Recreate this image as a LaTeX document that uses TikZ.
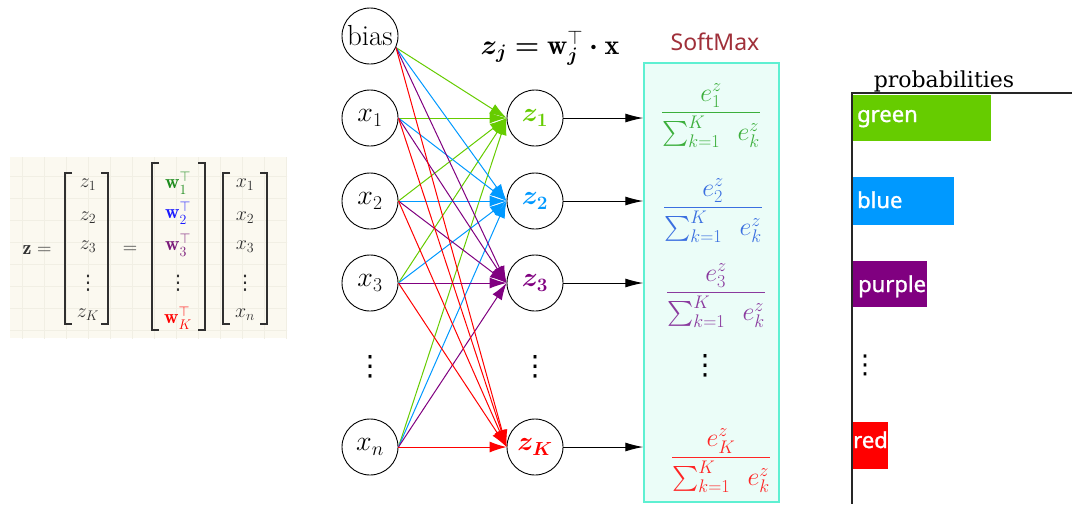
\RequirePackage{fix-cm}
\documentclass[tikz,border=0pt]{standalone}
\usepackage{amsmath}
\usepackage{bm}
\usepackage{fontspec}
\newfontfamily\labsans{Noto Sans}
\newfontfamily\labbold[FakeBold=1.3]{Noto Sans}
\newfontfamily\slabfont{DejaVu Serif}
\newfontfamily\symfont{DejaVu Sans}
\usetikzlibrary{arrows.meta}
\definecolor{cgreen}{HTML}{66CC00}
\definecolor{cblue}{HTML}{0099FF}
\definecolor{cpurple}{HTML}{800080}
\definecolor{cred}{HTML}{FF0000}
\definecolor{fgreen}{HTML}{3CAF3C}
\definecolor{fblue}{HTML}{3A6FE0}
\definecolor{fpurple}{HTML}{8A3A9E}
\definecolor{fred}{HTML}{FF2525}
\definecolor{mgreen}{HTML}{1E8C1E}
\definecolor{mblue}{HTML}{1A1AFF}
\definecolor{mpurple}{HTML}{7A1A7A}
\definecolor{boxfill}{HTML}{EBFDF8}
\definecolor{boxline}{HTML}{5EF0D2}
\definecolor{smred}{HTML}{A0303A}
\definecolor{eqbg}{HTML}{FBF9F0}
\definecolor{eqgrid}{HTML}{F1EFE4}
\definecolor{eqtext}{HTML}{303030}
\newcommand\fsz[1]{\fontsize{#1}{#1}\selectfont}
\newcommand\vdts{{\symfont ⋮}}
\tikzset{
  neuron/.style={circle, draw, line width=0.9pt, minimum size=56pt, inner sep=0pt},
  edge/.style={line width=1pt, -{Latex[length=17pt,width=11pt]}},
  outarr/.style={line width=1pt, -{Latex[length=18pt,width=9pt]}},
  brk/.style={line width=1.4pt, eqtext},
  meq/.style={inner sep=0pt, text=eqtext, font=\fsz{20}},
  barlab/.style={anchor=base west, inner sep=0pt, text=white, font=\labbold\fsz{22}},
  frac/.style={inner sep=0pt, font=\fsz{26}},
  dots/.style={inner sep=0pt, font=\symfont\fsz{28}}
}
\begin{document}
\begin{tikzpicture}[x=1pt,y=-1pt]
\path[use as bounding box, fill=white] (0,0) rectangle (1072,504);

% ---------- left equation ----------
\fill[eqbg] (10,157) rectangle (287,338);
\begin{scope}
\clip (10,157) rectangle (287,338);
\draw[eqgrid, line width=0.5pt, step=22pt] (0,150) grid (300,350);
\end{scope}
\node[meq] (zeq) at (37,250) {$\mathbf{z}=$};
\draw[brk] (72,173) -- (65,173) -- (65,324) -- (72,324);
\draw[brk] (101,173) -- (108,173) -- (108,324) -- (101,324);
\node[meq] (mz1) at (88,185) {$z_1$};
\node[meq] (mz2) at (88,218) {$z_2$};
\node[meq] (mz3) at (88,247) {$z_3$};
\node[dots, text=eqtext, font=\symfont\fsz{20}] (mzd) at (88,283) {⋮};
\node[meq] (mzK) at (88,315) {$z_K$};
\node[meq] (eq2) at (130,250) {$=$};
\draw[brk] (159,163) -- (152,163) -- (152,330) -- (159,330);
\draw[brk] (198,163) -- (205,163) -- (205,330) -- (198,330);
\node[meq] (mw1) at (178,183) {$\color{mgreen}\mathbf{w}_1^{\top}$};
\node[meq] (mw2) at (178,213) {$\color{mblue}\mathbf{w}_2^{\top}$};
\node[meq] (mw3) at (178,245) {$\color{mpurple}\mathbf{w}_3^{\top}$};
\node[dots, text=eqtext, font=\symfont\fsz{20}] (mwd) at (178,283) {⋮};
\node[meq] (mwK) at (178,318) {$\color{cred}\mathbf{w}_K^{\top}$};
\draw[brk] (230,173) -- (223,173) -- (223,324) -- (230,324);
\draw[brk] (260,173) -- (267,173) -- (267,324) -- (260,324);
\node[meq] (mx1) at (245,185) {$x_1$};
\node[meq] (mx2) at (245,218) {$x_2$};
\node[meq] (mx3) at (245,247) {$x_3$};
\node[dots, text=eqtext, font=\symfont\fsz{20}] (mxd) at (245,283) {⋮};
\node[meq] (mxn) at (245,315) {$x_n$};

% ---------- network ----------
\node[neuron, font=\fsz{29}] (b) at (370,36) {bias};
\node[neuron, font=\fsz{28}] (x1) at (370,118) {$x_1$};
\node[neuron, font=\fsz{28}] (x2) at (370,201) {$x_2$};
\node[neuron, font=\fsz{28}] (x3) at (370,283) {$x_3$};
\node[dots] (vin) at (370,367) {⋮};
\node[neuron, font=\fsz{28}] (xn) at (370,447) {$x_n$};

\node[neuron, font=\fsz{27}] (z1) at (535,118) {$\color{cgreen}\boldsymbol{z_1}$};
\node[neuron, font=\fsz{27}] (z2) at (535,201) {$\color{cblue}\boldsymbol{z_2}$};
\node[neuron, font=\fsz{27}] (z3) at (535,283) {$\color{cpurple}\boldsymbol{z_3}$};
\node[dots] (vz) at (535,367) {⋮};
\node[neuron, font=\fsz{27}] (zK) at (535,447) {$\color{cred}\boldsymbol{z_K}$};

\node[inner sep=0pt, font=\fsz{28}] (form) at (550,48) {$\boldsymbol{z_j = {}}\mathbf{w}_{\boldsymbol{j}}^{\top}\boldsymbol{\cdot}\mathbf{x}$};

\foreach \t/\c in {z1/cgreen, z2/cblue, z3/cpurple, zK/cred}
  \foreach \s/\a in {b/-24, x1/0, x2/0, x3/0, xn/0}
    \draw[edge, \c] (\s.\a) -- (\t.west);

% ---------- softmax box ----------
\node[draw=boxline, fill=boxfill, line width=1.5pt, minimum width=135pt, minimum height=439pt, inner sep=0pt] (box) at (711.5,282.5) {};
\node[inner sep=0pt, text=smred, font=\labsans\fsz{23}, anchor=base] (smt) at (715,50) {SoftMax};

\foreach \z in {z1, z2, z3, zK}
  \draw[outarr] (\z.east) -- (\z.east -| box.west);

\node[frac, text=fgreen] (f1) at (711,116) {$\displaystyle\frac{e_1^z}{\sum_{k=1}^{K}\enspace e_k^z}$};
\node[frac, text=fblue] (f2) at (713,211) {$\displaystyle\frac{e_2^z}{\sum_{k=1}^{K}\enspace e_k^z}$};
\node[frac, text=fpurple] (f3) at (716,296) {$\displaystyle\frac{e_3^z}{\sum_{k=1}^{K}\enspace e_k^z}$};
\node[dots] (vsm) at (705,366) {⋮};
\node[frac, text=fred] (f4) at (721,461) {$\displaystyle\frac{e_K^z}{\sum_{k=1}^{K}\enspace e_k^z}$};

% ---------- probabilities chart ----------
\node[inner sep=0pt, anchor=base, font=\slabfont\fsz{22}] (ptitle) at (944,87) {probabilities};
\fill[cgreen] (852,95) rectangle (991,141);
\fill[cblue] (852,177) rectangle (954,225);
\fill[cpurple] (852,261) rectangle (927,307);
\fill[cred] (852,422) rectangle (888,469);
\draw[line width=1.6pt, black!85] (1072,93) -- (852,93) -- (852,504);
\node[barlab] (lg) at (857,122) {green};
\node[barlab] (lb) at (857,208) {blue};
\node[barlab] (lp) at (858,292) {purple};
\node[dots, font=\symfont\fsz{26}] (vch) at (865,365) {⋮};
\node[barlab] (lr) at (853,448) {red};
\end{tikzpicture}
\end{document}
